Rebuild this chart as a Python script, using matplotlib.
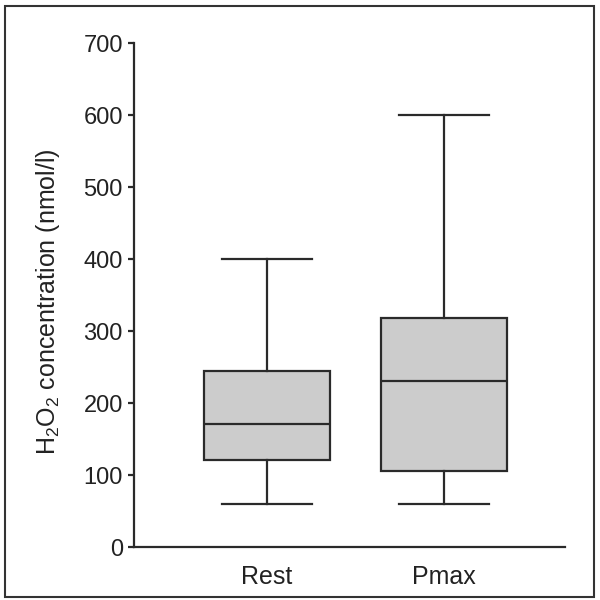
import matplotlib
matplotlib.use('Agg')
import matplotlib.pyplot as plt
from matplotlib.patches import Rectangle

plt.rcParams['font.family'] = ['Liberation Sans', 'DejaVu Sans']
plt.rcParams['mathtext.default'] = 'regular'

# box statistics (nmol/l)
groups = ['Rest', 'Pmax']
whisker_low = [60, 60]
q1 = [121, 106]
median = [171, 231]
q3 = [244, 318]
whisker_high = [400, 600]

yticks = [0, 100, 200, 300, 400, 500, 600, 700]

line_col = '#2a2a2a'
text_col = '#222222'

fig = plt.figure(figsize=(6, 6), dpi=100, facecolor='white')
ax = fig.add_axes([0.2233, 0.0883, 0.7184, 0.84])

stats = []
for i, name in enumerate(groups):
    stats.append(dict(label=name, whislo=whisker_low[i], q1=q1[i], med=median[i],
                      q3=q3[i], whishi=whisker_high[i], fliers=[]))

lw = 1.6
ax.bxp(stats, positions=[1, 2], widths=0.71, capwidths=0.51, patch_artist=True,
       showfliers=False,
       boxprops=dict(facecolor='#cccccc', edgecolor=line_col, linewidth=lw),
       medianprops=dict(color=line_col, linewidth=lw),
       whiskerprops=dict(color=line_col, linewidth=lw),
       capprops=dict(color=line_col, linewidth=lw))

ax.set_xlim(0.249, 2.684)
ax.set_ylim(0, 700)
ax.set_yticks(yticks)
ax.spines['top'].set_visible(False)
ax.spines['right'].set_visible(False)
for side in ('left', 'bottom'):
    ax.spines[side].set_linewidth(lw)
    ax.spines[side].set_color(line_col)
ax.tick_params(axis='y', length=4, width=lw, color=line_col, labelsize=17, pad=4,
               labelcolor=text_col)
ax.tick_params(axis='x', length=0, labelsize=18, pad=13, labelcolor=text_col)
ax.set_ylabel('H$_2$O$_2$ concentration (nmol/l)', fontsize=18, color=text_col)
ax.yaxis.set_label_coords(-0.168, 0.486)

# outer frame around the whole picture
fig.patches.append(Rectangle((0.009, 0.005), 0.981, 0.985, transform=fig.transFigure,
                             fill=False, edgecolor='#333333', linewidth=1.5))

fig.savefig('out.png', dpi=100, facecolor='white')
